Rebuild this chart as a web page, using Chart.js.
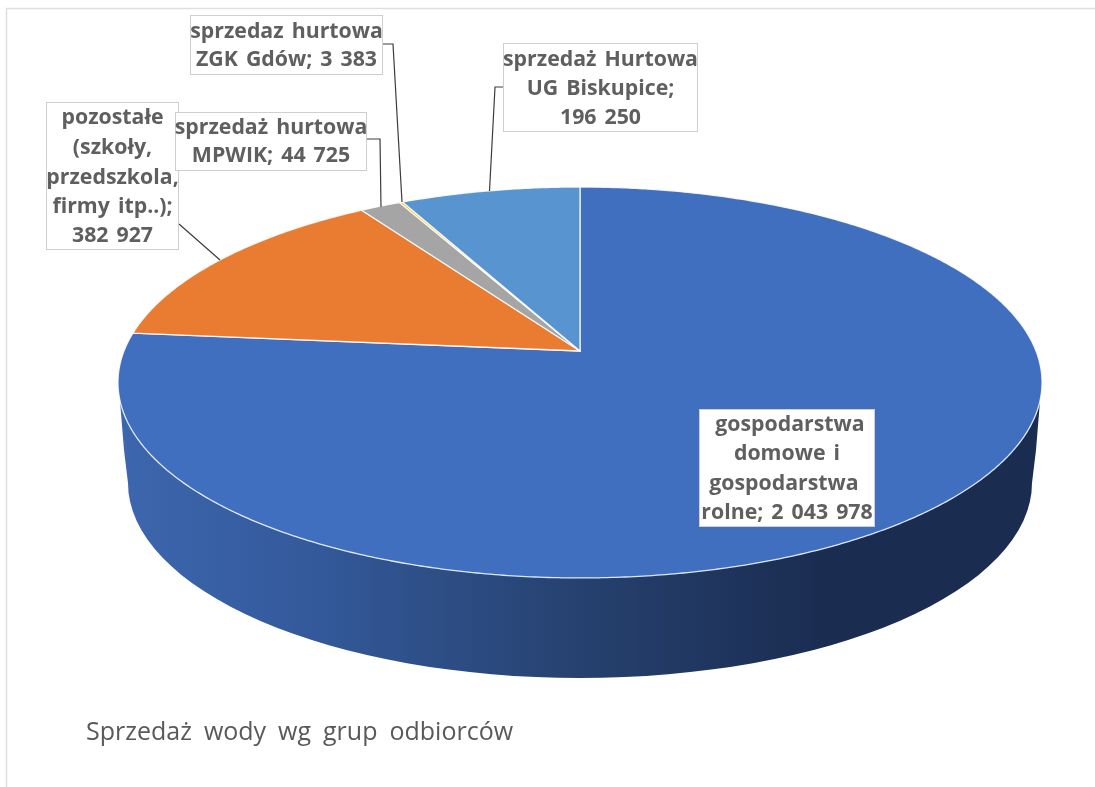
<!DOCTYPE html>
<html lang="pl"><head><meta charset="utf-8">
<style>html,body{margin:0;padding:0;background:#fff;overflow:hidden}canvas{display:block}</style>
<script src="https://cdn.jsdelivr.net/npm/chart.js@4/dist/chart.umd.min.js"></script>
</head><body><canvas id="c" width="1095" height="787"></canvas>
<script>
const categories = ['gospodarstwa domowe i gospodarstwa rolne','pozostałe (szkoły, przedszkola, firmy itp..)','sprzedaż hurtowa MPWIK','sprzedaz hurtowa ZGK Gdów','sprzedaż Hurtowa UG Biskupice'];
const values = [2043978, 382927, 44725, 3383, 196250];
const colors = ['#416fbf','#e97c30','#a5a5a5','#ffc000','#5895d0'];
const labelLines = [
  ['gospodarstwa','domowe i','gospodarstwa','rolne; 2 043 978'],
  ['pozostałe','(szkoły,','przedszkola,','firmy itp..);','382 927'],
  ['sprzedaż hurtowa','MPWIK; 44 725'],
  ['sprzedaz hurtowa','ZGK Gdów; 3 383'],
  ['sprzedaż Hurtowa','UG Biskupice;','196 250']
];
const titleText = 'Sprzedaż wody wg grup odbiorców';

// label boxes: x0,y0,x1,y1 and line-centre y values
const boxes = [
  {r:[699,409,875,527], ys:[425,454,484,513], dx:[3,0,-3,0]},
  {r:[46,102,179,250], ys:[118,148,178,207,236], dx:[0,0,0,0,0]},
  {r:[175,112,367,171], ys:[128,156], dx:[0,0]},
  {r:[190,15,383,75], ys:[32,60], dx:[0,0]},
  {r:[503,43,698,132], ys:[60,89,118], dx:[0,0,0]}
];
const leaders = [null,
  [[179,224],[220,260]],
  [[367,139],[380,139],[381,207]],
  [[383,44],[393,44],[402,202]],
  [[503,87],[495,87],[489.5,191]]
];

// Perspective projection of the unit disc (maps the pie centre to its apex)
const P = {cx:580, cy:351, A:456, B:190.4, c:-0.161};
function proj(theta){
  const u=Math.sin(theta), v=-Math.cos(theta), w=1+P.c*v;
  return [P.cx+P.A*u/w, P.cy+P.B*v/w];
}
function sidePath(ctx){
  ctx.beginPath();
  ctx.moveTo(120,401);
  ctx.lineTo(124,450);
  ctx.lineTo(128,483);
  ctx.ellipse(580,483,452,195,0,Math.PI,0,true);
  ctx.lineTo(1036,450);
  ctx.lineTo(1040,401);
  ctx.closePath();
}
const pie3d = {
  id:'pie3d',
  beforeDraw(chart){
    const ctx=chart.ctx;
    ctx.save();
    ctx.fillStyle='#fff';ctx.fillRect(0,0,1095,787);
    ctx.strokeStyle='#dedede';ctx.lineWidth=1.5;
    ctx.beginPath();ctx.moveTo(6.5,787);ctx.lineTo(6.5,8.5);ctx.lineTo(1095,8.5);ctx.stroke();
    ctx.restore();
    ctx.wordSpacing='5.5px';
  },
  beforeDatasetDraw(chart){
    const ctx=chart.ctx, arcs=chart.getDatasetMeta(0).data;
    ctx.save();
    const g=ctx.createLinearGradient(120,0,1040,0);
    g.addColorStop(0,'#3c66ae');
    g.addColorStop(0.2,'#345a9c');
    g.addColorStop(0.5,'#26416f');
    g.addColorStop(0.77,'#1a2c50');
    g.addColorStop(1,'#1a2c50');
    sidePath(ctx);ctx.fillStyle=g;ctx.fill();
    ctx.lineJoin='round';
    arcs.forEach((arc,i)=>{
      const a0=arc.startAngle+Math.PI/2, a1=arc.endAngle+Math.PI/2;
      const n=Math.max(2,Math.ceil((a1-a0)*120));
      ctx.beginPath();
      ctx.moveTo(P.cx,P.cy);
      for(let k=0;k<=n;k++){const p=proj(a0+(a1-a0)*k/n);ctx.lineTo(p[0],p[1]);}
      ctx.closePath();
      ctx.fillStyle=colors[i];ctx.fill();
      ctx.strokeStyle='rgba(255,255,255,0.85)';ctx.lineWidth=1.3;ctx.stroke();
    });
    ctx.restore();
    return false;
  },
  afterDraw(chart){
    const ctx=chart.ctx;
    ctx.save();
    ctx.strokeStyle='#3c3c3c';ctx.lineWidth=1.2;
    leaders.forEach(l=>{if(!l)return;ctx.beginPath();l.forEach((p,i)=>i?ctx.lineTo(p[0],p[1]):ctx.moveTo(p[0],p[1]));ctx.stroke();});
    ctx.font='bold 21.3px "Open Sans"';ctx.textAlign='center';ctx.textBaseline='middle';
    ctx.wordSpacing='2.5px';
    boxes.forEach((b,i)=>{
      const [x0,y0,x1,y1]=b.r;
      ctx.fillStyle='#fff';ctx.fillRect(x0,y0,x1-x0,y1-y0);
      ctx.strokeStyle='#cfcfcf';ctx.lineWidth=1;ctx.strokeRect(x0+.5,y0+.5,x1-x0-1,y1-y0-1);
      ctx.fillStyle='#5f5f5f';
      labelLines[i].forEach((t,j)=>ctx.fillText(t,(x0+x1)/2+b.dx[j],b.ys[j]));
    });
    ctx.restore();
    ctx.wordSpacing='0px';
  }
};
new Chart(document.getElementById('c'),{
  type:'pie',
  data:{labels:categories,datasets:[{data:values,backgroundColor:colors}]},
  plugins:[pie3d],
  options:{
    responsive:false,animation:false,events:[],
    layout:{padding:{left:86,bottom:39,top:0,right:0}},
    plugins:{
      legend:{display:false},tooltip:{enabled:false},
      title:{display:true,text:titleText,position:'bottom',align:'start',color:'#595959',
        font:{family:'"Open Sans"',size:25,weight:'normal'},padding:0}
    }
  }
});
</script></body></html>
